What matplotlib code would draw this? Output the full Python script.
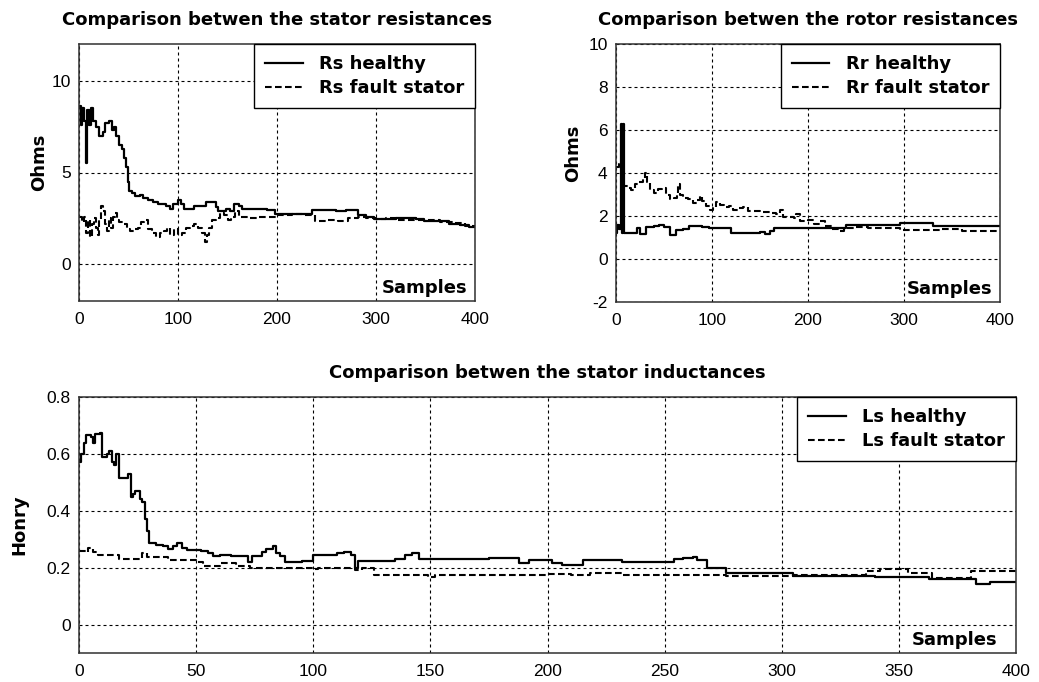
import numpy as np
import matplotlib
matplotlib.use("Agg")
import matplotlib.pyplot as plt

plt.rcParams["axes.unicode_minus"] = False

# Rs (stator resistance) -- sample index / value pairs, stepped
rs_healthy_x = [0, 2, 3, 5, 7, 8, 10, 12, 14, 17, 20, 24, 26, 30, 33, 35, 37, 40, 43, 45, 47, 49, 51,
                54, 57, 62, 65, 70, 75, 80, 88, 92, 95, 100, 103, 106, 112, 116, 122, 128, 134, 138,
                140, 148, 153, 157, 162, 165, 180, 190, 198, 210, 220, 235, 245, 260, 270, 282, 290,
                298, 320, 340, 348, 360, 374, 385, 394, 400]
rs_healthy_y = [8.6, 7.6, 8.5, 7.8, 5.5, 8.4, 7.6, 8.5, 7.8, 7.5, 7.0, 7.2, 7.7, 7.8, 7.3, 7.5, 7.0, 6.5,
                6.3, 5.8, 5.3, 4.5, 4.0, 3.9, 3.7, 3.8, 3.6, 3.5, 3.4, 3.3, 3.2, 3.0, 3.3, 3.5, 3.3, 3.0,
                3.0, 3.2, 3.2, 3.4, 3.4, 3.1, 2.9, 3.0, 2.9, 3.3, 3.2, 3.0, 3.0, 2.95, 2.75, 2.73, 2.75,
                2.95, 2.95, 2.9, 2.95, 2.7, 2.6, 2.47, 2.5, 2.45, 2.36, 2.35, 2.2, 2.15, 2.05, 2.05]
rs_fault_x = [0, 3, 5, 7, 9, 11, 13, 15, 17, 19, 20, 22, 24, 26, 28, 30, 32, 34, 36, 38, 40, 44, 48, 52,
              56, 60, 63, 66, 70, 74, 78, 82, 86, 89, 92, 96, 100, 104, 108, 112, 116, 120, 124, 127,
              129, 131, 134, 138, 142, 146, 150, 154, 158, 162, 166, 172, 181, 192, 200, 215, 225,
              238, 250, 262, 272, 282, 290, 300, 310, 320, 340, 355, 365, 380, 390, 400]
rs_fault_y = [2.6, 2.3, 2.6, 1.7, 2.4, 1.5, 2.2, 2.5, 2.0, 1.6, 2.4, 3.2, 2.9, 2.2, 1.8, 2.5, 2.0, 2.6,
              2.8, 2.4, 2.3, 2.2, 1.9, 1.8, 1.9, 2.0, 2.3, 2.4, 1.9, 1.7, 1.5, 1.7, 1.8, 2.0, 1.6, 1.9,
              1.6, 1.7, 2.0, 2.1, 2.2, 2.0, 1.7, 1.2, 1.6, 2.0, 2.4, 2.5, 2.8, 2.7, 2.4, 2.55, 2.9,
              2.6, 2.55, 2.5, 2.6, 2.6, 2.7, 2.75, 2.7, 2.36, 2.4, 2.36, 2.5, 2.6, 2.5, 2.45, 2.5,
              2.4, 2.4, 2.4, 2.3, 2.25, 2.1, 2.05]

# Rr (rotor resistance)
rr_healthy_x = [0, 1, 3, 5, 6, 7, 8, 9, 14, 22, 25, 31, 40, 45, 50, 56, 62, 70, 76, 90, 97, 120, 150,
                155, 160, 165, 200, 240, 296, 330, 400]
rr_healthy_y = [1.2, 1.6, 1.4, 6.3, 1.2, 6.3, 1.2, 1.2, 1.2, 1.45, 1.15, 1.5, 1.55, 1.6, 1.5, 1.1, 1.35,
                1.4, 1.55, 1.5, 1.45, 1.22, 1.25, 1.15, 1.3, 1.42, 1.42, 1.58, 1.66, 1.55, 1.55]
rr_fault_x = [0, 3, 5, 7, 12, 16, 20, 24, 28, 30, 32, 35, 40, 44, 48, 52, 56, 60, 64, 65, 67, 70, 75, 80,
              84, 87, 90, 94, 98, 101, 104, 108, 112, 118, 122, 127, 132, 138, 150, 160, 167, 171, 174,
              185, 188, 192, 200, 206, 212, 218, 225, 232, 238, 250, 262, 275, 296, 320, 340, 360,
              385, 400]
rr_fault_y = [4.3, 4.4, 4.2, 3.4, 3.3, 3.2, 3.5, 3.6, 3.7, 4.0, 3.6, 3.2, 3.05, 3.25, 3.3, 3.0, 2.8, 2.85,
              3.0, 3.5, 3.0, 2.85, 2.8, 2.6, 2.75, 2.95, 2.7, 2.45, 2.3, 2.35, 2.65, 2.5, 2.4, 2.45,
              2.3, 2.35, 2.4, 2.25, 2.2, 2.15, 2.1, 2.3, 1.95, 1.9, 2.1, 1.75, 1.8, 1.65, 1.75, 1.55,
              1.4, 1.3, 1.45, 1.5, 1.45, 1.45, 1.35, 1.35, 1.4, 1.3, 1.3, 1.3]

# Ls (stator inductance)
ls_healthy_x = [0, 1, 2, 3, 5, 6, 7, 9, 10, 12, 13, 14, 15, 16, 17, 21, 22, 23, 24, 26, 27, 28, 29, 30,
                33, 36, 38, 40, 42, 44, 46, 52, 55, 57, 60, 65, 70, 72, 74, 78, 80, 83, 84, 86, 88, 95,
                100, 110, 113, 116, 118, 119, 125, 135, 139, 142, 145, 165, 175, 188, 192, 202, 206,
                215, 232, 254, 258, 262, 264, 268, 276, 305, 340, 363, 383, 389, 400]
ls_healthy_y = [0.57, 0.6, 0.64, 0.667, 0.66, 0.64, 0.67, 0.675, 0.59, 0.6, 0.61, 0.57, 0.56, 0.6, 0.515,
                0.53, 0.45, 0.46, 0.47, 0.44, 0.43, 0.37, 0.33, 0.285, 0.28, 0.275, 0.265, 0.275, 0.285,
                0.27, 0.263, 0.26, 0.25, 0.24, 0.245, 0.24, 0.24, 0.22, 0.24, 0.255, 0.265, 0.277, 0.25,
                0.24, 0.22, 0.225, 0.245, 0.25, 0.255, 0.245, 0.2, 0.225, 0.225, 0.23, 0.245, 0.25,
                0.23, 0.23, 0.233, 0.216, 0.228, 0.218, 0.21, 0.228, 0.22, 0.23, 0.235, 0.238, 0.228,
                0.198, 0.183, 0.172, 0.166, 0.16, 0.144, 0.15, 0.15]
ls_fault_x = [0, 3, 4, 6, 8, 17, 26, 27, 29, 38, 50, 53, 60, 67, 73, 100, 102, 118, 121, 126, 149, 152,
              200, 210, 218, 232, 276, 305, 336, 342, 354, 364, 381, 400]
ls_fault_y = [0.257, 0.255, 0.27, 0.255, 0.245, 0.23, 0.235, 0.25, 0.237, 0.228, 0.22, 0.205, 0.216, 0.205,
              0.2, 0.196, 0.2, 0.193, 0.2, 0.175, 0.168, 0.175, 0.178, 0.175, 0.18, 0.175, 0.17, 0.175,
              0.19, 0.196, 0.18, 0.165, 0.19, 0.19]

W, H = 1039, 682
fig = plt.figure(figsize=(W / 100, H / 100), dpi=100)

BOLD = dict(family="DejaVu Sans", weight="bold", size=13)


def style_axes(ax, xlim, ylim, xticks, yticks, ylabel, title, label_xy):
    ax.set_xlim(*xlim)
    ax.set_ylim(*ylim)
    ax.set_xticks(xticks)
    ax.set_yticks(yticks)
    ax.grid(True, color="black", linestyle=(0, (2.7, 2.7)), linewidth=0.8)
    ax.tick_params(length=0, labelsize=12.5)
    ax.tick_params(axis="x", pad=8)
    ax.tick_params(axis="y", pad=6)
    for lab in ax.get_xticklabels() + ax.get_yticklabels():
        lab.set_family("Liberation Sans")
    for sp in ax.spines.values():
        sp.set_color("#303030")
        sp.set_linewidth(1.1)
    ax.set_ylabel(ylabel, fontdict=BOLD)
    ax.yaxis.set_label_coords(*label_xy)
    ax.set_title(title, fontdict=BOLD, pad=14)
    ax.text(0.98, 0.015, "Samples", transform=ax.transAxes, ha="right", va="bottom",
            fontdict=BOLD)


def draw_pair(ax, xh, yh, xf, yf, lab_h, lab_f):
    ax.plot(xh, yh, color="black", lw=1.6, drawstyle="steps-post", label=lab_h)
    ax.plot(xf, yf, color="black", lw=1.5, drawstyle="steps-post",
            dashes=(3.2, 1.6), label=lab_f)
    leg = ax.legend(loc="upper right", borderaxespad=0, fancybox=False, framealpha=1,
                    edgecolor="black", handlelength=2.1, handletextpad=0.9,
                    borderpad=0.6, labelspacing=0.35,
                    prop=dict(family="DejaVu Sans", weight="bold", size=13))
    leg.get_frame().set_linewidth(1.0)


ax1 = fig.add_axes([79 / W, 1 - 301 / H, 396 / W, 257 / H])
draw_pair(ax1, rs_healthy_x, rs_healthy_y, rs_fault_x, rs_fault_y,
          "Rs healthy", "Rs fault stator")
style_axes(ax1, (0, 400), (-2, 12), [0, 100, 200, 300, 400], [0, 5, 10], "Ohms",
           "Comparison betwen the stator resistances", (-0.078, 0.54))

ax2 = fig.add_axes([616 / W, 1 - 302 / H, 384 / W, 258 / H])
draw_pair(ax2, rr_healthy_x, rr_healthy_y, rr_fault_x, rr_fault_y,
          "Rr healthy", "Rr fault stator")
style_axes(ax2, (0, 400), (-2, 10), [0, 100, 200, 300, 400], [-2, 0, 2, 4, 6, 8, 10], "Ohms",
           "Comparison betwen the rotor resistances", (-0.088, 0.575))

ax3 = fig.add_axes([79 / W, 1 - 653 / H, 937 / W, 256 / H])
draw_pair(ax3, ls_healthy_x, ls_healthy_y, ls_fault_x, ls_fault_y,
          "Ls healthy", "Ls fault stator")
style_axes(ax3, (0, 400), (-0.1, 0.8), list(range(0, 401, 50)), [0, 0.2, 0.4, 0.6, 0.8], "Honry",
           "Comparison betwen the stator inductances", (-0.054, 0.5))
ax3.set_yticklabels(["0", "0.2", "0.4", "0.6", "0.8"], family="Liberation Sans", size=12.5)

fig.savefig("out.png", dpi=100, facecolor="white")
